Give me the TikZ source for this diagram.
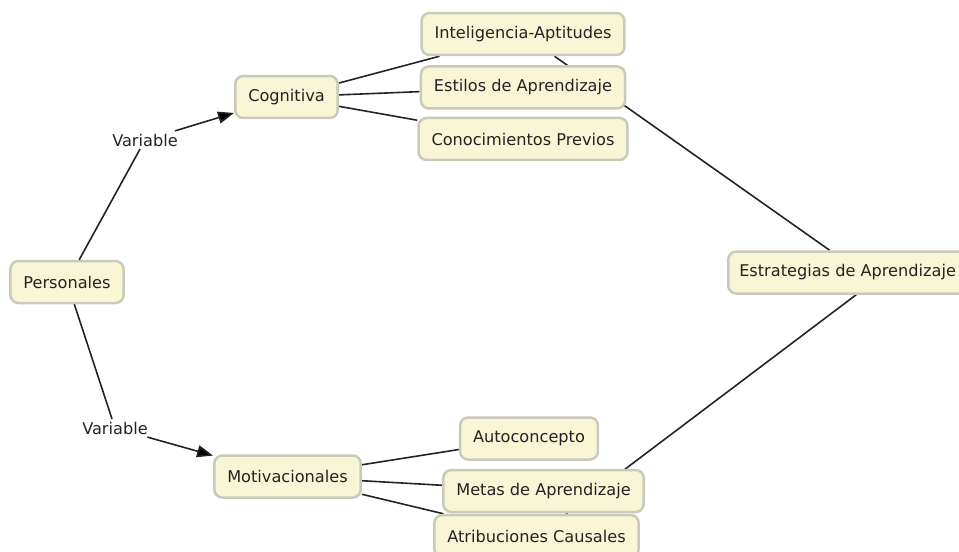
\documentclass[tikz,border=0pt]{standalone}
\usepackage{fontspec}
\setmainfont{DejaVu Sans}
\usepackage{tikz}
\usetikzlibrary{positioning,arrows.meta,backgrounds}
\definecolor{boxfill}{RGB}{248,246,212}
\definecolor{boxline}{RGB}{202,202,186}
\definecolor{ink}{RGB}{35,35,35}

\tikzset{
	concept/.style={shape=rectangle,rounded corners=0.16cm,draw=boxline,line width=0.05cm,fill=boxfill,text=ink,minimum height=0.84cm,inner xsep=0.26cm,font=\fontsize{9.2}{11}\selectfont},
	link/.style={draw=ink,line width=0.032cm},
	linklabel/.style={text=ink,inner sep=0.05cm,font=\fontsize{9.2}{11}\selectfont}
}

\begin{document}
\begin{tikzpicture}[x=0.02cm,y=-0.02cm]
		\useasboundingbox (0,0) rectangle (959,551);
		% left side
		\node(pers)  [concept] at (67,282) {Personales};
		\node(var1)  [linklabel] at (145,140) {Variable};
		\node(var2)  [linklabel] at (115,428) {Variable};
		\node(cogn)  [concept] at (286.5,97) {Cognitiva};
		\node(motiv) [concept] at (287.5,476.5) {Motivacionales};
		% cognitive branch
		\node(intel) [concept] at (523,34) {Inteligencia-Aptitudes};
		\node(estil) [concept,below=0.18cm of intel] {Estilos de Aprendizaje};
		\node(conoc) [concept,below=0.14cm of estil] {Conocimientos Previos};
		% motivational branch
		\node(autoc) [concept] at (529,438.5) {Autoconcepto};
		\node(metas) [concept] at (543.5,491) {Metas de Aprendizaje};
		\node(atrib) [concept] at (536.5,536) {Atribuciones Causales};
		% right
		\node(estrat) [concept,anchor=west,inner xsep=0.22cm] at (727,272.5) {Estrategias de Aprendizaje};

		\path[link] (pers) -- (var1) (pers) -- (var2);
		\path[link,-{Triangle[length=0.32cm,width=0.24cm]}]
			(var1) edge (cogn)
			(var2) edge (motiv);
		\begin{scope}[on background layer]
			\path[link]
				(cogn)  -- (intel)
				(cogn)  -- (estil)
				(cogn)  -- (conoc)
				(motiv) -- (autoc)
				(motiv) -- (metas)
				(motiv) -- (atrib)
				(intel) -- (estrat.129)
				(atrib) -- (estrat.291);
		\end{scope}
	\end{tikzpicture}
\end{document}
